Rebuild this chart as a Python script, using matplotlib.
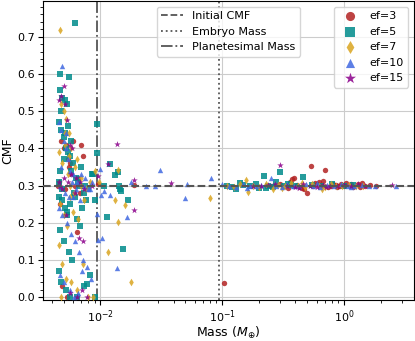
import numpy as np
import matplotlib
matplotlib.use("Agg")
import matplotlib.pyplot as plt
from matplotlib.lines import Line2D
from matplotlib.ticker import AutoMinorLocator

# series labels / styles
labels = ["ef=3", "ef=5", "ef=7", "ef=10", "ef=15"]
colors = ["#b22222", "#008b8b", "#daa520", "#4169e1", "#8b008b"]
markers = ["o", "s", "d", "^", "*"]

# ef=3
mass_3 = [0.0046, 0.0048, 0.0050, 0.0052, 0.0055, 0.0058, 0.0062, 0.0064, 0.0070, 0.0047,
          0.0051, 0.0054, 0.0060, 0.0066, 0.0049, 0.0053, 0.0057, 0.0045, 0.0072, 0.0068,
          0.0188, 0.0096, 0.104,
          0.25, 0.30, 0.33, 0.36, 0.378, 0.39, 0.41, 0.44, 0.47, 0.50, 0.533, 0.56, 0.60,
          0.63, 0.66, 0.705, 0.74, 0.78, 0.82, 0.86, 0.90, 0.95, 1.0, 1.05, 1.12, 1.2, 1.3,
          1.4, 1.5, 1.65, 1.85, 0.45, 0.68, 0.88, 0.35, 0.58, 0.93, 1.15, 1.35]
cmf_3 = [0.31, 0.42, 0.40, 0.41, 0.35, 0.33, 0.30, 0.175, 0.41, 0.25,
         0.29, 0.37, 0.42, 0.32, 0.03, 0.00, 0.36, 0.30, 0.38, 0.28,
         0.301, 0.305, 0.038,
         0.300, 0.305, 0.298, 0.310, 0.318, 0.320, 0.302, 0.296, 0.290, 0.279, 0.353, 0.300, 0.305,
         0.310, 0.300, 0.341, 0.296, 0.300, 0.305, 0.302, 0.298, 0.303, 0.300, 0.307, 0.300, 0.297, 0.303,
         0.308, 0.300, 0.302, 0.300, 0.292, 0.312, 0.295, 0.293, 0.306, 0.298, 0.304, 0.297]

# ef=5
mass_5 = [0.0062, 0.0047, 0.0055, 0.0047, 0.0049, 0.0051, 0.0053, 0.0094, 0.0046, 0.0048,
          0.0050, 0.0052, 0.0054, 0.0056, 0.0058, 0.0060, 0.0063, 0.0066, 0.0070, 0.0075,
          0.0080, 0.0088, 0.0046, 0.0049, 0.0051, 0.0053, 0.0057, 0.0061, 0.0065, 0.0071,
          0.0078, 0.0047, 0.0050, 0.0055, 0.0059, 0.0068, 0.0082, 0.0046, 0.0048, 0.0052,
          0.0056, 0.0064, 0.0074, 0.0091, 0.0047, 0.0050, 0.0054, 0.0058, 0.0062, 0.0085,
          0.0046, 0.0049, 0.0053, 0.0067, 0.0073, 0.0048, 0.0051, 0.0077,
          0.0094, 0.0121, 0.0133, 0.0139, 0.0143, 0.0146, 0.0149, 0.0107, 0.0169, 0.0114,
          0.0154, 0.0091,
          0.11, 0.12, 0.13, 0.15, 0.17, 0.19, 0.20, 0.22, 0.24, 0.26, 0.28, 0.30, 0.32,
          0.35, 0.40, 0.465, 0.55, 0.65, 0.80, 1.0, 1.2, 0.14, 0.23, 0.37]
cmf_5 = [0.738, 0.599, 0.592, 0.556, 0.535, 0.53, 0.52, 0.466, 0.47, 0.45,
         0.43, 0.40, 0.46, 0.38, 0.34, 0.36, 0.32, 0.31, 0.35, 0.30,
         0.29, 0.33, 0.27, 0.26, 0.24, 0.22, 0.25, 0.28, 0.21, 0.24,
         0.035, 0.18, 0.15, 0.12, 0.10, 0.19, 0.06, 0.07, 0.04, 0.02,
         0.00, 0.00, 0.03, 0.00, 0.34, 0.37, 0.39, 0.42, 0.27, 0.33,
         0.31, 0.29, 0.23, 0.30, 0.28, 0.50, 0.44, 0.26,
         0.387, 0.357, 0.328, 0.335, 0.299, 0.290, 0.285, 0.300, 0.260, 0.216,
         0.130, 0.260,
         0.300, 0.295, 0.290, 0.302, 0.298, 0.305, 0.292, 0.326, 0.300, 0.297, 0.310, 0.336, 0.300,
         0.305, 0.298, 0.323, 0.302, 0.300, 0.304, 0.299, 0.301, 0.306, 0.294, 0.302]

# ef=7
mass_7 = [0.0047, 0.0048, 0.0050, 0.0052, 0.0055, 0.0058, 0.0046, 0.0049, 0.0051, 0.0054,
          0.0057, 0.0061, 0.0065, 0.0070, 0.0076, 0.0083, 0.0090, 0.0047, 0.0050, 0.0053,
          0.0056, 0.0060, 0.0066, 0.0074, 0.0046, 0.0049, 0.0052, 0.0058, 0.0064, 0.0072,
          0.0080, 0.0087, 0.0048, 0.0051, 0.0055, 0.0062, 0.0069,
          0.0141, 0.0133, 0.0161, 0.0140, 0.0116, 0.0179, 0.079, 0.0098,
          0.11, 0.125, 0.14, 0.156, 0.163, 0.18, 0.20, 0.23, 0.26, 0.29, 0.33, 0.37,
          0.42, 0.48, 0.55, 0.62, 0.70, 0.78, 0.87, 0.97, 1.1, 1.25, 1.45, 0.31, 0.45, 0.66]
cmf_7 = [0.718, 0.52, 0.50, 0.48, 0.44, 0.40, 0.39, 0.36, 0.41, 0.33,
         0.30, 0.28, 0.37, 0.32, 0.29, 0.31, 0.34, 0.25, 0.22, 0.19,
         0.27, 0.23, 0.21, 0.26, 0.14, 0.09, 0.05, 0.04, 0.02, 0.09,
         0.00, 0.00, 0.00, 0.44, 0.38, 0.35, 0.30,
         0.341, 0.260, 0.247, 0.201, 0.122, 0.041, 0.266, 0.31,
         0.300, 0.297, 0.303, 0.315, 0.283, 0.300, 0.296, 0.305, 0.290, 0.302, 0.298, 0.307,
         0.300, 0.295, 0.304, 0.300, 0.296, 0.305, 0.300, 0.298, 0.302, 0.300, 0.299, 0.293, 0.306, 0.291]

# ef=10
mass_10 = [0.0049, 0.0046, 0.0048, 0.0050, 0.0052, 0.0054, 0.0057, 0.0060, 0.0064, 0.0069,
           0.0075, 0.0082, 0.0047, 0.0051, 0.0055, 0.0059, 0.0063, 0.0068, 0.0073, 0.0079,
           0.0086, 0.0046, 0.0049, 0.0053, 0.0058, 0.0062, 0.0067, 0.0072, 0.0078, 0.0047,
           0.0050, 0.0056, 0.0061, 0.0066, 0.0071, 0.0084, 0.0048, 0.0052, 0.0060,
           0.0100, 0.0178, 0.0237, 0.0282, 0.0108, 0.0120, 0.0102, 0.0165, 0.0094, 0.0103,
           0.0096, 0.0138, 0.031, 0.052, 0.081, 0.050,
           0.10, 0.115, 0.13, 0.15, 0.17, 0.19, 0.21, 0.254, 0.28, 0.31, 0.34, 0.38, 0.43,
           0.49, 0.56, 0.64, 0.73, 0.83, 0.95, 1.08, 1.22, 1.4, 1.6, 1.8, 2.7, 0.16, 0.6, 1.15]
cmf_10 = [0.621, 0.47, 0.45, 0.42, 0.40, 0.37, 0.34, 0.33, 0.31, 0.33,
          0.32, 0.29, 0.30, 0.28, 0.27, 0.31, 0.29, 0.26, 0.30, 0.29,
          0.31, 0.24, 0.22, 0.20, 0.17, 0.15, 0.12, 0.10, 0.08, 0.06,
          0.04, 0.02, 0.00, 0.01, 0.07, 0.05, 0.35, 0.44, 0.27,
          0.344, 0.310, 0.300, 0.300, 0.285, 0.274, 0.274, 0.216, 0.223, 0.158,
          0.154, 0.079, 0.342, 0.305, 0.321, 0.266,
          0.303, 0.300, 0.296, 0.305, 0.300, 0.298, 0.302, 0.320, 0.300, 0.295, 0.303, 0.300, 0.298,
          0.305, 0.300, 0.297, 0.302, 0.300, 0.304, 0.299, 0.300, 0.302, 0.298, 0.300, 0.300,
          0.294, 0.306, 0.295]

# ef=15
mass_15 = [0.0050, 0.0048, 0.0046, 0.0051, 0.0053, 0.0056, 0.0059, 0.0063, 0.0068, 0.0074,
           0.0047, 0.0050, 0.0054, 0.0058, 0.0062, 0.0067, 0.0072, 0.0046, 0.0049, 0.0052,
           0.0057, 0.0065, 0.0071, 0.0078, 0.0085,
           0.0138, 0.0115, 0.0096, 0.0190, 0.0189, 0.038,
           0.18, 0.21, 0.24, 0.30, 0.34, 0.40, 0.46, 0.53, 0.60, 0.68, 0.77, 0.88, 1.0,
           1.15, 1.3, 1.5, 2.5, 0.27, 0.43, 0.72]
cmf_15 = [0.567, 0.54, 0.53, 0.52, 0.476, 0.41, 0.40, 0.32, 0.31, 0.29,
          0.30, 0.32, 0.31, 0.33, 0.28, 0.16, 0.15, 0.31, 0.29, 0.22,
          0.01, 0.00, 0.02, 0.00, 0.30,
          0.411, 0.358, 0.325, 0.314, 0.234, 0.308,
          0.300, 0.298, 0.302, 0.354, 0.300, 0.297, 0.303, 0.300, 0.296, 0.302, 0.300, 0.298, 0.301,
          0.300, 0.303, 0.299, 0.302, 0.305, 0.293, 0.297]

masses = [mass_3, mass_5, mass_7, mass_10, mass_15]
cmfs = [cmf_3, cmf_5, cmf_7, cmf_10, cmf_15]

initial_cmf = 0.3
embryo_mass = 0.094
planetesimal_mass = 0.0094

fig = plt.figure(figsize=(4.15, 3.41), dpi=100)
ax = fig.add_axes([0.104, 0.12, 0.893, 0.877])

for m, c, lab, col, mk in zip(masses, cmfs, labels, colors, markers):
    ax.scatter(m, c, s=15 if mk != "*" else 24, marker=mk, color=col,
               alpha=0.85, linewidths=0, label=lab, zorder=3)

ax.axhline(initial_cmf, color="#555555", ls="--", lw=1.5, zorder=4)
ax.axvline(embryo_mass, color="#555555", ls=":", lw=1.3, zorder=2)
ax.axvline(planetesimal_mass, color="#555555", ls="-.", lw=1.3, zorder=2)

ax.set_xscale("log")
ax.set_xlim(0.0034, 3.75)
ax.set_ylim(-0.008, 0.796)
ax.yaxis.set_minor_locator(AutoMinorLocator(5))
ax.grid(True, which="major", color="#cccccc", lw=0.8, zorder=0)
ax.set_axisbelow(True)
ax.tick_params(labelsize=8, pad=2.5)
ax.set_xlabel(r"Mass ($M_{\oplus}$)", fontsize=9, labelpad=0)
ax.set_ylabel("CMF", fontsize=9, labelpad=2)

leg2 = ax.legend(loc="upper right", fontsize=8, markerscale=1.7, framealpha=0.8)
ax.add_artist(leg2)
line_handles = [Line2D([], [], color="#555555", ls="--", lw=1.3),
                Line2D([], [], color="#555555", ls=":", lw=1.3),
                Line2D([], [], color="#555555", ls="-.", lw=1.3)]
ax.legend(line_handles, ["Initial CMF", "Embryo Mass", "Planetesimal Mass"],
          loc="upper center", fontsize=8, framealpha=0.8)

fig.savefig("out.png", dpi=100)
